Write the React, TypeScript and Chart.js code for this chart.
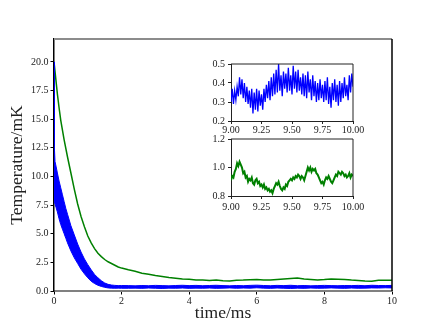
import React, { useEffect, useRef } from 'react';
import { Chart, registerables } from 'chart.js';
Chart.register(...registerables);

// ---------- Main plot data ----------
const bandTimes = [
  0, 0.01, 0.03, 0.06, 0.1, 0.15, 0.2, 0.25, 0.3, 0.35, 0.4, 0.5, 0.6, 0.7, 0.8, 0.9, 1.0, 1.1, 1.2, 1.3, 1.4, 1.5, 1.6, 1.7, 1.8, 1.9, 2.0,
  2.2, 2.4, 2.6, 2.8, 3.0, 3.2, 3.4, 3.6, 3.8, 4.0, 4.2, 4.4, 4.6, 4.8, 5.0, 5.2, 5.4, 5.6, 5.8, 6.0,
  6.2, 6.4, 6.6, 6.8, 7.0, 7.2, 7.4, 7.6, 7.8, 8.0, 8.2, 8.4, 8.6, 8.8, 9.0, 9.2, 9.4, 9.6, 9.8, 10.0,
];
const blueUpper = [
  20.0, 12.6, 11.3, 10.9, 10.3, 9.6, 9.0, 8.4, 7.8, 7.2, 6.7, 5.7, 4.9, 4.1, 3.4, 2.8, 2.3, 1.85, 1.45, 1.15, 0.9, 0.7, 0.58, 0.52, 0.49, 0.47, 0.48,
  0.47, 0.45, 0.48, 0.46, 0.49, 0.47, 0.45, 0.48, 0.50, 0.47, 0.49, 0.46, 0.48, 0.50, 0.47, 0.45, 0.48, 0.46, 0.49, 0.51,
  0.48, 0.46, 0.49, 0.47, 0.50, 0.46, 0.48, 0.45, 0.47, 0.49, 0.47, 0.46, 0.48, 0.47, 0.49, 0.46, 0.50, 0.48, 0.47, 0.49,
];
const blueLower = [
  7.8, 7.8, 7.6, 7.3, 6.9, 6.3, 5.8, 5.4, 5.0, 4.6, 4.2, 3.5, 2.9, 2.4, 1.9, 1.5, 1.15, 0.85, 0.65, 0.5, 0.4, 0.32, 0.27, 0.25, 0.24, 0.25, 0.24,
  0.24, 0.25, 0.23, 0.26, 0.24, 0.22, 0.25, 0.24, 0.26, 0.23, 0.25, 0.24, 0.26, 0.23, 0.25, 0.27, 0.24, 0.26, 0.25, 0.28,
  0.25, 0.23, 0.26, 0.24, 0.22, 0.25, 0.23, 0.26, 0.24, 0.25, 0.27, 0.25, 0.23, 0.26, 0.24, 0.25, 0.27, 0.26, 0.28, 0.27,
];
const greenTimes = [
  0, 0.05, 0.1, 0.15, 0.2, 0.3, 0.4, 0.5, 0.6, 0.7, 0.8, 0.9, 1.0, 1.1, 1.2, 1.3, 1.4, 1.5, 1.6, 1.7, 1.8, 1.9, 2.0,
  2.2, 2.4, 2.6, 2.8, 3.0, 3.2, 3.4, 3.6, 3.8, 4.0, 4.2, 4.4, 4.6, 4.8, 5.0, 5.2, 5.4, 5.6, 5.8, 6.0,
  6.2, 6.4, 6.6, 6.8, 7.0, 7.2, 7.4, 7.6, 7.8, 8.0, 8.2, 8.4, 8.6, 8.8, 9.0, 9.2, 9.4, 9.6, 9.8, 10.0,
];
const greenValues = [
  20.0, 18.6, 17.2, 16.0, 14.9, 13.2, 11.7, 10.3, 8.9, 7.6, 6.5, 5.6, 4.8, 4.2, 3.7, 3.3, 3.0, 2.75, 2.55, 2.4, 2.25, 2.1, 2.0,
  1.85, 1.72, 1.55, 1.47, 1.35, 1.27, 1.18, 1.12, 1.05, 1.02, 0.95, 0.97, 0.92, 0.95, 0.9, 0.88, 0.93, 0.95, 0.99, 1.0,
  0.97, 0.95, 1.01, 1.05, 1.1, 1.13, 1.05, 1.01, 0.97, 1.0, 1.05, 1.02, 1.0, 0.95, 0.92, 0.87, 0.86, 0.93, 0.94, 0.94,
];
const mainXTicks = [0, 2, 4, 6, 8, 10];
const mainYTicks = [0, 2.5, 5, 7.5, 10, 12.5, 15, 17.5, 20];

// ---------- Inset data (t = 9.00 ... 10.00 ms) ----------
const insetTimes = [
  9.00, 9.01, 9.02, 9.03, 9.04, 9.05, 9.06, 9.07, 9.08, 9.09,
  9.10, 9.11, 9.12, 9.13, 9.14, 9.15, 9.16, 9.17, 9.18, 9.19,
  9.20, 9.21, 9.22, 9.23, 9.24, 9.25, 9.26, 9.27, 9.28, 9.29,
  9.30, 9.31, 9.32, 9.33, 9.34, 9.35, 9.36, 9.37, 9.38, 9.39,
  9.40, 9.41, 9.42, 9.43, 9.44, 9.45, 9.46, 9.47, 9.48, 9.49,
  9.50, 9.51, 9.52, 9.53, 9.54, 9.55, 9.56, 9.57, 9.58, 9.59,
  9.60, 9.61, 9.62, 9.63, 9.64, 9.65, 9.66, 9.67, 9.68, 9.69,
  9.70, 9.71, 9.72, 9.73, 9.74, 9.75, 9.76, 9.77, 9.78, 9.79,
  9.80, 9.81, 9.82, 9.83, 9.84, 9.85, 9.86, 9.87, 9.88, 9.89,
  9.90, 9.91, 9.92, 9.93, 9.94, 9.95, 9.96, 9.97, 9.98, 9.99, 10.00,
];
const insetBlueValues = [
  0.30, 0.37, 0.29, 0.36, 0.31, 0.38, 0.33, 0.43, 0.34, 0.42,
  0.32, 0.40, 0.30, 0.38, 0.29, 0.36, 0.27, 0.37, 0.24, 0.35,
  0.26, 0.37, 0.25, 0.36, 0.28, 0.34, 0.26, 0.37, 0.30, 0.39,
  0.32, 0.41, 0.31, 0.43, 0.33, 0.45, 0.34, 0.47, 0.35, 0.50,
  0.36, 0.44, 0.33, 0.46, 0.37, 0.45, 0.35, 0.48, 0.36, 0.44,
  0.34, 0.49, 0.37, 0.46, 0.35, 0.47, 0.36, 0.43, 0.34, 0.45,
  0.33, 0.44, 0.32, 0.46, 0.35, 0.42, 0.31, 0.44, 0.33, 0.41,
  0.30, 0.40, 0.31, 0.42, 0.32, 0.39, 0.30, 0.41, 0.31, 0.43,
  0.29, 0.38, 0.27, 0.40, 0.31, 0.42, 0.30, 0.39, 0.28, 0.41,
  0.30, 0.40, 0.32, 0.43, 0.33, 0.39, 0.31, 0.44, 0.35, 0.45, 0.38,
];
const insetGreenValues = [
  0.91, 0.94, 0.93, 0.97, 0.99, 1.03, 1.01, 1.04, 1.02, 1.00,
  0.96, 0.97, 0.93, 0.94, 0.90, 0.92, 0.91, 0.93, 0.89, 0.88,
  0.91, 0.92, 0.89, 0.90, 0.87, 0.88, 0.86, 0.88, 0.85, 0.86,
  0.84, 0.85, 0.83, 0.84, 0.82, 0.85, 0.87, 0.89, 0.88, 0.90,
  0.87, 0.85, 0.84, 0.86, 0.85, 0.88, 0.87, 0.90, 0.91, 0.92,
  0.91, 0.93, 0.92, 0.94, 0.93, 0.95, 0.94, 0.92, 0.94, 0.93,
  0.91, 0.94, 0.97, 1.00, 0.98, 1.00, 0.97, 0.99, 0.98, 0.99,
  0.96, 0.95, 0.93, 0.91, 0.89, 0.90, 0.88, 0.91, 0.93, 0.92,
  0.94, 0.92, 0.90, 0.89, 0.91, 0.93, 0.95, 0.94, 0.97, 0.96,
  0.95, 0.97, 0.96, 0.94, 0.95, 0.93, 0.94, 0.96, 0.93, 0.95, 0.94,
];
const insetXTicks = [9.0, 9.25, 9.5, 9.75, 10.0];
const inset1YTicks = [0.2, 0.3, 0.4, 0.5];
const inset2YTicks = [0.8, 1.0, 1.2];

const FONT = "'Liberation Serif', 'DejaVu Serif', serif";
const BLUE = '#0000ff';
const GREEN = '#008000';

const zip = (xs: number[], ys: number[]) => xs.map((x, i) => ({ x, y: ys[i] }));

function framePlugin(topColor: string, topWidth: number, rightColor: string, rightWidth: number) {
  return {
    id: 'frame',
    afterDraw(chart: any) {
      const { ctx, chartArea } = chart;
      const { left, right, top, bottom } = chartArea;
      ctx.save();
      ctx.strokeStyle = topColor;
      ctx.lineWidth = topWidth;
      ctx.beginPath();
      ctx.moveTo(left, top);
      ctx.lineTo(right, top);
      ctx.stroke();
      ctx.strokeStyle = rightColor;
      ctx.lineWidth = rightWidth;
      ctx.beginPath();
      ctx.moveTo(right, top);
      ctx.lineTo(right, bottom);
      ctx.stroke();
      ctx.restore();
    },
  };
}

function MainChart() {
  const ref = useRef<HTMLCanvasElement>(null);
  useEffect(() => {
    const chart = new Chart(ref.current!, {
      type: 'line',
      data: {
        datasets: [
          {
            data: zip(bandTimes, blueLower),
            borderColor: BLUE,
            borderWidth: 1,
            pointRadius: 0,
            fill: false,
          },
          {
            data: zip(bandTimes, blueUpper),
            borderColor: BLUE,
            backgroundColor: BLUE,
            borderWidth: 1,
            pointRadius: 0,
            fill: '-1',
          },
          {
            data: zip(greenTimes, greenValues),
            borderColor: GREEN,
            borderWidth: 1.5,
            pointRadius: 0,
            fill: false,
          },
        ],
      },
      options: {
        animation: false,
        responsive: false,
        devicePixelRatio: 1,
        layout: { padding: { top: 39, right: 44, left: 0, bottom: 0 } },
        plugins: { legend: { display: false }, tooltip: { enabled: false } },
        scales: {
          x: {
            type: 'linear',
            min: 0,
            max: 10,
            afterFit: (s: any) => { s.height = 36; },
            afterBuildTicks: (s: any) => { s.ticks = mainXTicks.map((v) => ({ value: v })); },
            ticks: {
              font: { family: FONT, size: 10 },
              color: '#222',
              padding: 1,
              maxRotation: 0,
              callback: (v: any) => String(v),
            },
            grid: { drawOnChartArea: false, drawTicks: true, tickLength: 3.5, color: '#000' },
            border: { color: '#808080', width: 2 },
            title: {
              display: true,
              text: 'time/ms',
              font: { family: FONT, size: 17.5 },
              color: '#222',
              padding: { top: 0, bottom: 3 },
            },
          },
          y: {
            type: 'linear',
            min: 0,
            max: 22,
            afterFit: (s: any) => { s.width = 54; },
            afterBuildTicks: (s: any) => { s.ticks = mainYTicks.map((v) => ({ value: v })); },
            ticks: {
              font: { family: FONT, size: 10 },
              color: '#222',
              padding: 2,
              callback: (v: any) => Number(v).toFixed(1),
            },
            grid: { drawOnChartArea: false, drawTicks: true, tickLength: 3.5, color: '#000' },
            border: { color: '#000', width: 1.5 },
            title: {
              display: true,
              text: 'Temperature/mK',
              font: { family: FONT, size: 17.5 },
              color: '#222',
              padding: { top: 7, bottom: 0 },
            },
          },
        },
      },
      plugins: [framePlugin('#8c8c8c', 2, '#000', 1.5)],
    } as any);
    return () => chart.destroy();
  }, []);
  return (
    <canvas ref={ref} width={436} height={327} style={{ position: 'absolute', left: 0, top: 0, width: 436, height: 327 }} />
  );
}

function InsetChart(props: {
  times: number[];
  values: number[];
  color: string;
  lineWidth: number;
  yMin: number;
  yMax: number;
  yTicks: number[];
  top: number;
  xPad: number;
}) {
  const ref = useRef<HTMLCanvasElement>(null);
  useEffect(() => {
    const chart = new Chart(ref.current!, {
      type: 'line',
      data: {
        datasets: [
          {
            data: zip(props.times, props.values),
            borderColor: props.color,
            borderWidth: props.lineWidth,
            pointRadius: 0,
            fill: false,
          },
        ],
      },
      options: {
        animation: false,
        responsive: false,
        devicePixelRatio: 1,
        layout: { padding: { top: 7, right: 17, left: 0, bottom: 0 } },
        plugins: { legend: { display: false }, tooltip: { enabled: false } },
        scales: {
          x: {
            type: 'linear',
            min: 9,
            max: 10,
            afterFit: (s: any) => { s.height = 14; },
            afterBuildTicks: (s: any) => { s.ticks = insetXTicks.map((v) => ({ value: v })); },
            ticks: {
              font: { family: FONT, size: 10 },
              color: '#222',
              padding: props.xPad,
              maxRotation: 0,
              callback: (v: any) => Number(v).toFixed(2),
            },
            grid: { drawOnChartArea: false, drawTicks: true, tickLength: 3, color: '#222' },
            border: { color: '#222', width: 1 },
          },
          y: {
            type: 'linear',
            min: props.yMin,
            max: props.yMax,
            afterFit: (s: any) => { s.width = 31; },
            afterBuildTicks: (s: any) => { s.ticks = props.yTicks.map((v) => ({ value: v })); },
            ticks: {
              font: { family: FONT, size: 10 },
              color: '#222',
              padding: 3,
              callback: (v: any) => Number(v).toFixed(1),
            },
            grid: { drawOnChartArea: false, drawTicks: true, tickLength: 3, color: '#222' },
            border: { color: '#222', width: 1 },
          },
        },
      },
      plugins: [framePlugin('#222', 1, '#222', 1)],
    } as any);
    return () => chart.destroy();
  }, []);
  return (
    <canvas
      ref={ref}
      width={170}
      height={80}
      style={{ position: 'absolute', left: 200, top: props.top, width: 170, height: 80 }}
    />
  );
}

export default function App() {
  return (
    <div style={{ position: 'fixed', left: 0, top: 0, width: 436, height: 327, background: '#fff' }}>
      <MainChart />
      <InsetChart
        times={insetTimes}
        values={insetBlueValues}
        color={BLUE}
        lineWidth={1.3}
        yMin={0.2}
        yMax={0.5}
        yTicks={inset1YTicks}
        top={55}
        xPad={0}
      />
      <InsetChart
        times={insetTimes}
        values={insetGreenValues}
        color={GREEN}
        lineWidth={2}
        yMin={0.8}
        yMax={1.2}
        yTicks={inset2YTicks}
        top={130}
        xPad={2}
      />
    </div>
  );
}
